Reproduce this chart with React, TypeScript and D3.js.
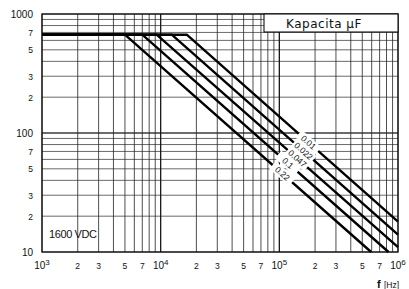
import * as d3 from "d3";

// capacitance series (µF) — flat voltage, knee frequency, end point
const CAPS = ["0.01", "0.022", "0.047", "0.1", "0.22"];
const V_FLAT = 670;
const KNEE_F = [16600, 12400, 9250, 7000, 5000];
const END_F = [1e6, 1e6, 1e6, 832000, 594000];
const END_V = [18, 14, 11, 10, 10];
// where each label sits along its line (Hz)
const LABEL_F = [176000, 160000, 142000, 118000, 106000];

const X_TICKS = [1e3, 2e3, 3e3, 5e3, 7e3, 1e4, 2e4, 3e4, 5e4, 7e4, 1e5, 2e5, 3e5, 5e5, 7e5, 1e6];
const X_LABELS = ["10|3", "2", "3", "5", "7", "10|4", "2", "3", "5", "7", "10|5", "2", "3", "5", "7", "10|6"];
const Y_TICKS = [10, 20, 30, 50, 70, 100, 200, 300, 500, 700, 1000];
const Y_LABELS = ["10", "2", "3", "5", "7", "100", "2", "3", "5", "7", "1000"];

const W = 409;
const H = 289;
const M = { top: 14, right: 11, bottom: 37, left: 42 };
const FONT = "'Liberation Sans', Arial, sans-serif";

export default function App() {
  const x = d3.scaleLog().domain([1e3, 1e6]).range([M.left, W - M.right]);
  const y = d3.scaleLog().domain([10, 1000]).range([H - M.bottom, M.top]);

  const gridX: number[] = [];
  const gridY: number[] = [];
  [1e3, 1e4, 1e5].forEach((d) => d3.range(1, 10).forEach((k) => gridX.push(d * k)));
  gridX.push(1e6);
  [10, 100].forEach((d) => d3.range(1, 10).forEach((k) => gridY.push(d * k)));
  gridY.push(1000);

  const line = d3
    .line<[number, number]>()
    .x((d) => x(d[0]))
    .y((d) => y(d[1]));

  const series = CAPS.map((c, i) => {
    const pts: [number, number][] = [
      [1e3, V_FLAT],
      [KNEE_F[i], V_FLAT],
      [END_F[i], END_V[i]],
    ];
    // label position on the sloped part
    const x0 = x(KNEE_F[i]);
    const y0 = y(V_FLAT);
    const x1 = x(END_F[i]);
    const y1 = y(END_V[i]);
    const lx = x(LABEL_F[i]);
    const ly = y0 + ((lx - x0) / (x1 - x0)) * (y1 - y0);
    const ang = (Math.atan2(y1 - y0, x1 - x0) * 180) / Math.PI;
    return { c, pts, lx, ly, ang };
  });

  const x0 = M.left;
  const x1 = W - M.right;
  const y0 = M.top;
  const y1 = H - M.bottom;

  return (
    <svg width={W} height={H} style={{ position: "absolute", left: 0, top: 0, background: "#fff" }}>
      {/* grid */}
      <g>
        {gridY.map((v, i) => (
          <line key={"gy" + i} x1={x0} x2={x1} y1={y(v)} y2={y(v)} stroke="#444" strokeWidth={0.8} />
        ))}
        {gridX.map((v, i) => (
          <line key={"gx" + i} x1={x(v)} x2={x(v)} y1={y0} y2={y1} stroke="#222" strokeWidth={0.8} />
        ))}
      </g>
      {/* decade lines a bit heavier */}
      <g>
        {[100].map((v) => (
          <line key={"my" + v} x1={x0} x2={x1} y1={y(v)} y2={y(v)} stroke="#222" strokeWidth={1} />
        ))}
        {[1e4, 1e5].map((v) => (
          <line key={"mx" + v} x1={x(v)} x2={x(v)} y1={y0} y2={y1} stroke="#111" strokeWidth={1.1} />
        ))}
      </g>
      <rect x={x0} y={y0} width={x1 - x0} height={y1 - y0} fill="none" stroke="#111" strokeWidth={1.3} />

      {/* series */}
      {series.map((s) => (
        <path key={s.c} d={line(s.pts) ?? ""} fill="none" stroke="#000" strokeWidth={2.4} strokeLinejoin="miter" />
      ))}
      {series.map((s) => (
        <g key={"l" + s.c} transform={`translate(${s.lx},${s.ly}) rotate(${s.ang})`}>
          <rect x={-13} y={-5} width={26} height={10} fill="#fff" />
          <text
            x={0}
            y={3}
            textAnchor="middle"
            fontFamily={FONT}
            fontSize={8.5}
            fill="#111"
          >
            {s.c}
          </text>
        </g>
      ))}

      {/* legend title box */}
      <rect x={264} y={y0} width={x1 - 264} height={18} fill="#fff" stroke="#111" strokeWidth={1.1} />
      <text x={324} y={28} textAnchor="middle" fontFamily="'DejaVu Sans', sans-serif" fontSize={12} letterSpacing={0.5} fill="#111">
        Kapacita μF
      </text>

      <text x={49} y={238} fontFamily={FONT} fontSize={11} letterSpacing={-0.4} fill="#111">
        1600 VDC
      </text>

      {/* y tick labels */}
      {Y_TICKS.map((v, i) => (
        <text
          key={"yl" + i}
          x={33}
          y={y(v) + 3.5}
          textAnchor="end"
          fontFamily={FONT}
          fontSize={Y_LABELS[i].length > 1 ? 10 : 8.5}
          fill="#111"
        >
          {Y_LABELS[i]}
        </text>
      ))}

      {/* x tick labels */}
      {X_TICKS.map((v, i) => {
        const [base, exp] = X_LABELS[i].split("|");
        return (
          <text
            key={"xl" + i}
            x={x(v)}
            y={269}
            textAnchor="middle"
            fontFamily={FONT}
            fontSize={exp ? 10 : 8.5}
            fill="#111"
          >
            {base}
            {exp && (
              <tspan fontSize={8} dy={-4}>
                {exp}
              </tspan>
            )}
          </text>
        );
      })}

      <text x={377} y={288} fontFamily={FONT} fontSize={11} fontWeight="bold" fill="#111">
        f
      </text>
      <text x={384} y={288} fontFamily={FONT} fontSize={8.5} fill="#111">
        [Hz]
      </text>
    </svg>
  );
}
